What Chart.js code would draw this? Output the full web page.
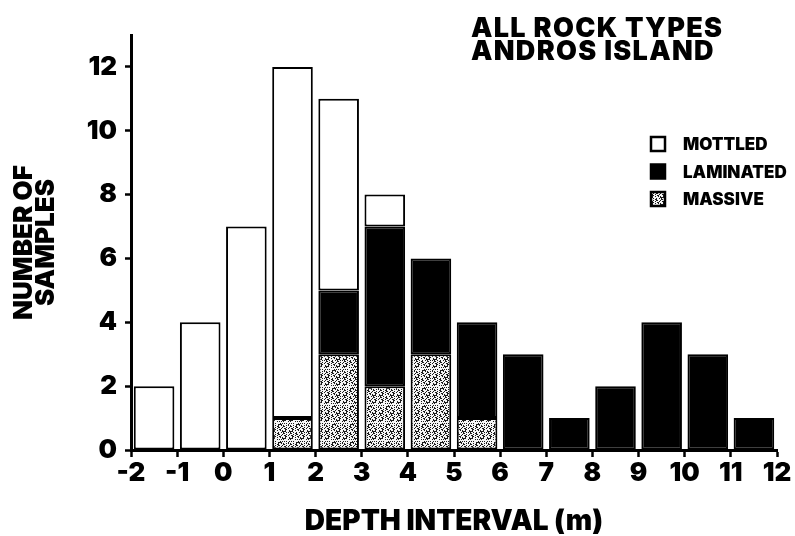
<!DOCTYPE html>
<html>
<head>
<meta charset="utf-8">
<script src="https://cdn.jsdelivr.net/npm/chart.js@4/dist/chart.umd.min.js"></script>
<style>
  html, body { margin: 0; padding: 0; background: #fff; }
  #wrap { width: 795px; height: 536px; }
</style>
</head>
<body>
<div id="wrap"><canvas id="chart" width="795" height="536"></canvas></div>
<script>
// depth bins (lower edge, m) and sample counts per rock type
const binStart  = [-2, -1, 0, 1, 2, 3, 4, 5, 6, 7, 8, 9, 10, 11];
const mottled   = [2, 4, 7, 11, 6, 1, null, null, null, null, null, null, null, null];
const laminated = [null, null, null, null, 2, 5, 3, 3, 3, 1, 2, 4, 3, 1];
const massive   = [null, null, null, 1, 3, 2, 3, 1, null, null, null, null, null, null];
const xTicks    = [-2, -1, 0, 1, 2, 3, 4, 5, 6, 7, 8, 9, 10, 11, 12];
const titleLines = ['ALL ROCK TYPES', 'ANDROS ISLAND'];

const FONT = 'Inter, "Liberation Sans", Arial, sans-serif';

/* ─────────────────────────────────────────────
   STIPPLE PATTERN (massive)
───────────────────────────────────────────── */
function makeStipple() {
  const c = document.createElement('canvas');
  c.width = 18; c.height = 18;
  const g = c.getContext('2d');
  g.fillStyle = '#f4f4f4';
  g.fillRect(0, 0, 18, 18);
  g.fillStyle = '#1a1a1a';
  for (let y = 0; y < 18; y++) {
    for (let x = 0; x < 18; x++) {
      if ((x * 73 + y * 151 + x * y * 17) % 11 < 4) g.fillRect(x, y, 1, 1);
    }
  }
  return g.createPattern(c, 'repeat');
}
const stipple = makeStipple();

const toPoints = (vals) => vals.map((v, i) => ({ x: binStart[i] + 0.5, y: v }));

/* ─────────────────────────────────────────────
   TITLE + LEGEND
───────────────────────────────────────────── */
const annotations = {
  id: 'annotations',
  afterDraw(chart) {
    const ctx = chart.ctx;
    ctx.save();
    ctx.fillStyle = '#000';
    ctx.textAlign = 'left';
    ctx.textBaseline = 'alphabetic';
    ctx.font = `900 27px ${FONT}`;
    try { ctx.letterSpacing = '1.3px'; } catch (_) {}
    titleLines.forEach((t, i) => ctx.fillText(t, 471, 37 + i * 23));
    try { ctx.letterSpacing = '0px'; } catch (_) {}

    // legend: top of stack first
    const sets = chart.data.datasets.slice().reverse();
    ctx.font = `900 17px ${FONT}`;
    ctx.textBaseline = 'middle';
    sets.forEach((ds, i) => {
      const cy = 144 + i * 27.5;
      ctx.fillStyle = ds.backgroundColor;
      ctx.fillRect(651, cy - 7, 14, 14);
      ctx.lineWidth = 2.5;
      ctx.strokeStyle = '#000';
      ctx.strokeRect(651, cy - 7, 14, 14);
      ctx.fillStyle = '#000';
      ctx.fillText(ds.label, 683, cy + 1);
    });
    ctx.restore();
  },
};

/* ─────────────────────────────────────────────
   CHART
───────────────────────────────────────────── */
const barStyle = {
  borderColor: '#000',
  borderWidth: 2,
  borderSkipped: false,
  barPercentage: 0.88,
  categoryPercentage: 1,
};

new Chart(document.getElementById('chart'), {
  type: 'bar',
  data: {
    datasets: [
      { label: 'MASSIVE',   data: toPoints(massive),   backgroundColor: stipple, ...barStyle },
      { label: 'LAMINATED', data: toPoints(laminated), backgroundColor: '#000',  ...barStyle },
      { label: 'MOTTLED',   data: toPoints(mottled),   backgroundColor: '#fff',  ...barStyle },
    ],
  },
  options: {
    responsive: false,
    animation: false,
    layout: { padding: { top: 35, right: 18, left: 0, bottom: 0 } },
    plugins: { legend: { display: false }, tooltip: { enabled: false } },
    scales: {
      x: {
        type: 'linear',
        stacked: true,
        offset: false,
        min: xTicks[0],
        max: xTicks[xTicks.length - 1],
        afterBuildTicks: (scale) => { scale.ticks = xTicks.map((v) => ({ value: v })); },
        afterFit: (scale) => { scale.height = 86; },
        ticks: { color: '#000', font: { family: FONT, size: 26, weight: 900 }, padding: 1, maxRotation: 0, autoSkip: false },
        grid: { offset: false, drawOnChartArea: false, tickLength: 7, tickColor: '#000', tickWidth: 2.5 },
        border: { color: '#000', width: 3 },
        title: {
          display: true,
          text: 'DEPTH INTERVAL (m)',
          color: '#000',
          font: { family: FONT, size: 28, weight: 900, lineHeight: 1 },
          padding: { top: 0, bottom: 0 },
        },
      },
      y: {
        stacked: true,
        min: 0,
        max: 13,
        afterFit: (scale) => { scale.width = 131; },
        ticks: {
          stepSize: 1,
          color: '#000',
          font: { family: FONT, size: 26, weight: 900 },
          padding: 8,
          callback: (v) => (v % 2 === 0 ? v : ''),
        },
        grid: { drawOnChartArea: false, tickLength: 6, tickColor: '#000', tickWidth: 2.5 },
        border: { color: '#000', width: 3 },
        title: {
          display: true,
          text: ['NUMBER OF', 'SAMPLES'],
          color: '#000',
          font: { family: FONT, size: 26, weight: 900, lineHeight: 0.86 },
          padding: { top: 13, bottom: 0 },
        },
      },
    },
  },
  plugins: [annotations],
});
</script>
</body>
</html>
